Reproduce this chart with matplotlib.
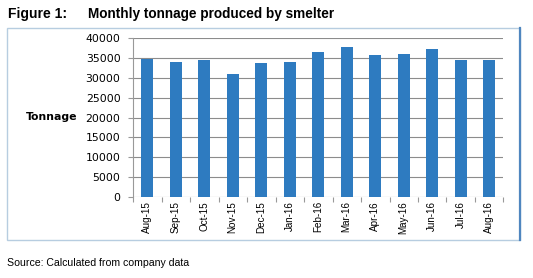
import matplotlib
matplotlib.use("Agg")
import matplotlib.pyplot as plt
from matplotlib.patches import Rectangle
from matplotlib import font_manager as fm

months = ["Aug-15", "Sep-15", "Oct-15", "Nov-15", "Dec-15", "Jan-16", "Feb-16",
          "Mar-16", "Apr-16", "May-16", "Jun-16", "Jul-16", "Aug-16"]
tonnage = [34700, 34000, 34500, 30900, 33700, 33900, 36450,
           37700, 35750, 35950, 37200, 34500, 34500]
yticks = [0, 5000, 10000, 15000, 20000, 25000, 30000, 35000, 40000]

names = {f.name for f in fm.fontManager.ttflist}
narrow = "Liberation Sans Narrow" if "Liberation Sans Narrow" in names else "Liberation Sans"

W, H = 533, 278
fig = plt.figure(figsize=(W / 100, H / 100), dpi=100)

# frame
fig.patches.append(Rectangle((7 / W, 1 - 240 / H), (520 - 7) / W, (240 - 28) / H,
                             transform=fig.transFigure, fill=False,
                             edgecolor="#b7cde0", linewidth=1.0))
fig.add_artist(plt.Line2D([520 / W, 520 / W], [1 - 240 / H, 1 - 28 / H],
                          transform=fig.transFigure, color="#4f86bf", linewidth=1.6))

ax = fig.add_axes([133 / W, 1 - 197 / H, (503.5 - 133) / W, (197 - 38) / H])
x = range(len(months))
ax.bar(x, tonnage, width=0.42, color="#2e7bc0", zorder=3)
ax.set_xlim(-0.5, len(months) - 0.5)
ax.set_ylim(0, 40000)
ax.set_yticks(yticks)
ax.set_yticklabels([str(v) for v in yticks], family="DejaVu Sans", fontsize=7.8)
ax.grid(axis="y", color="#8c8c8c", linewidth=0.8, zorder=0)
ax.set_xticks(list(x))
ax.set_xticklabels(months, rotation=90, family=narrow, fontsize=7.1)
ax.set_xticks([i + 0.5 for i in range(-1, len(months))], minor=True)
ax.tick_params(axis="x", which="major", length=0, pad=3)
ax.tick_params(axis="x", which="minor", length=3.5, color="#999999", width=0.8)
ax.tick_params(axis="y", length=3.5, color="#999999", width=0.8, pad=5.5)
for s in ["top", "right", "bottom"]:
    ax.spines[s].set_visible(False)
ax.spines["left"].set_color("#999999")
ax.spines["left"].set_linewidth(0.8)
ax.set_ylabel("Tonnage", family="DejaVu Sans", fontsize=7.8, fontweight="bold",
              rotation=0, ha="right", va="center", labelpad=3)
ax.yaxis.set_label_coords(-0.15, 0.5)

fig.text(8 / W, 1 - 14 / H, "Figure 1:", family="Liberation Sans", fontweight="bold",
         fontsize=10, va="center", ha="left")
fig.text(88 / W, 1 - 14 / H, "Monthly tonnage produced by smelter", family="Liberation Sans",
         fontweight="bold", fontsize=9.8, va="center", ha="left")
fig.text(7 / W, 1 - 263 / H, "Source: Calculated from company data", family=narrow,
         fontsize=7.6, va="center", ha="left")

fig.savefig("out.png", dpi=100)
